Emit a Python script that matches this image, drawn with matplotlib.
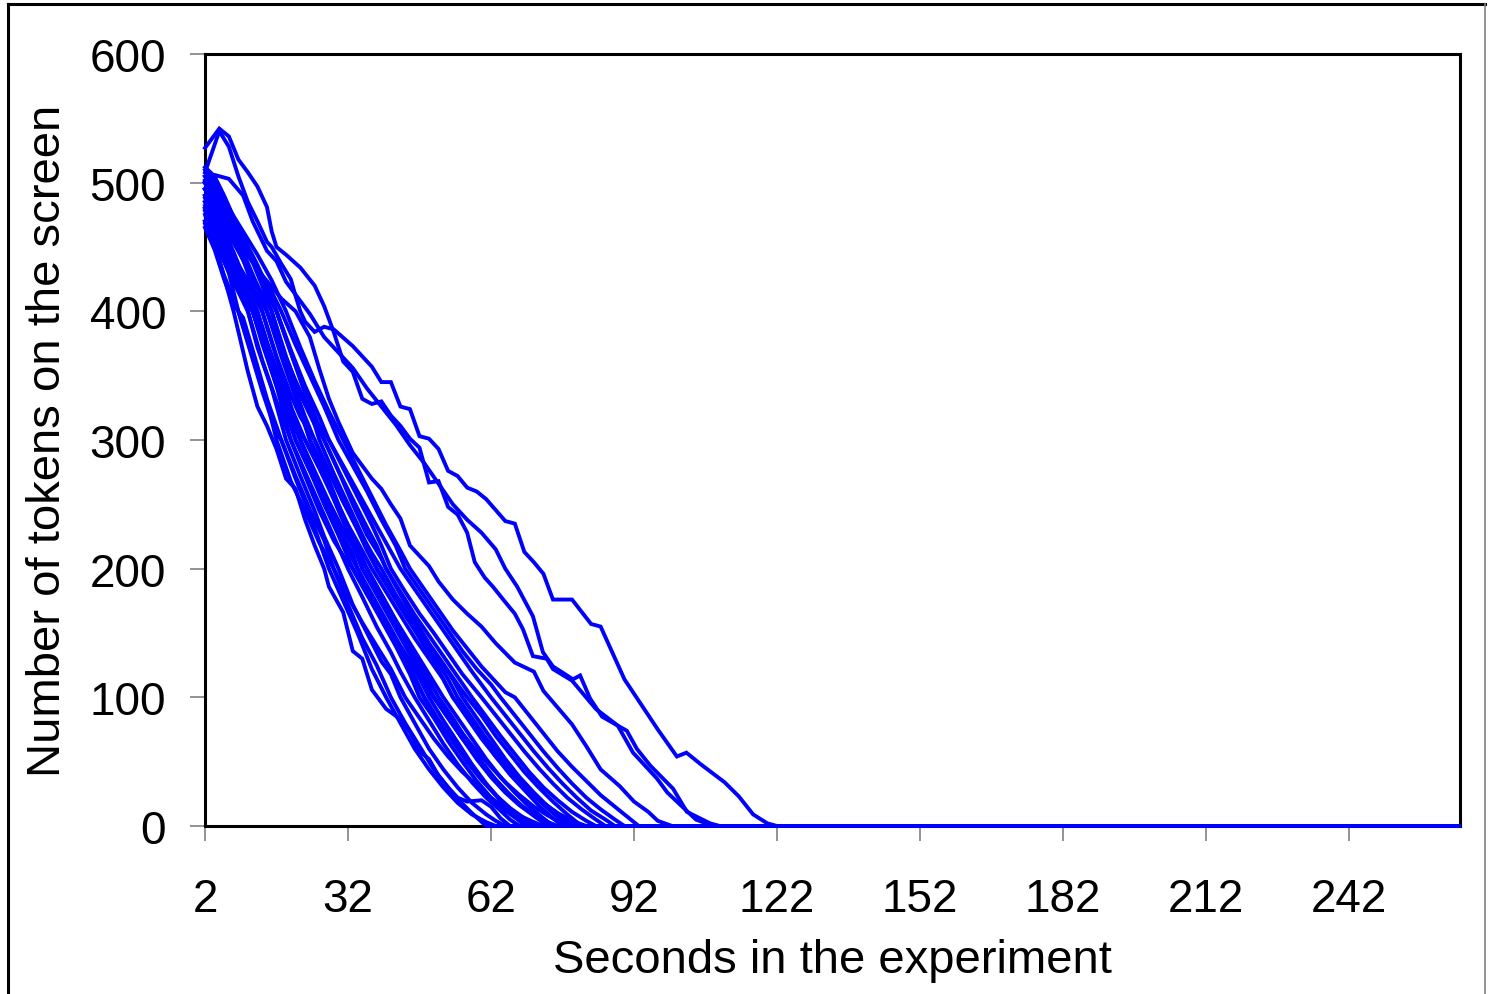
import matplotlib
matplotlib.use("Agg")
import matplotlib.pyplot as plt
from matplotlib.lines import Line2D

plt.rcParams['font.family'] = ['Liberation Sans', 'DejaVu Sans']

# last second of the experiment (all runs sit at 0 until then)
last_second = 265

# each run: (second, tokens on screen)
run01 = [(2,470),(5,440),(8,400),(11,353),(13,326),(15,311),(17,293),(19,270),(21,262),(23,238),(25,218),(27,200),(28,186),(31,166),(33,136),(35,130),(37,106),(40,91),(43,83),(45,73),(47,58),(49,52),(51,39),(55,21),(58,10),(61,0)]
run02 = [(2,482),(4,462),(7,430),(9,400),(12,365),(15,330),(17,300),(20,268),(23,245),(26,220),(29,200),(32,172),(35,146),(38,125),(41,100),(44,80),(47,62),(50,44),(53,30),(55,22),(57,19),(60,20),(62,15),(64,6),(66,0)]
run03 = [(2,468),(4,450),(6,428),(9,400),(11,375),(14,338),(17,305),(18,300),(21,270),(24,242),(28,200),(31,175),(34,150),(37,122),(40,100),(43,80),(46,60),(49,44),(52,30),(55,18),(58,9),(61,3),(63,0)]
run04 = [(2,500),(4,478),(7,440),(9,418),(11,400),(13,372),(16,340),(19,300),(22,272),(25,245),(27,225),(30,200),(33,172),(36,150),(39,128),(41,118),(43,100),(46,80),(49,60),(52,44),(55,30),(58,18),(61,9),(63,4),(65,0)]
run05 = [(2,485),(4,470),(7,442),(10,415),(12,400),(14,375),(17,342),(20,300),(23,275),(26,250),(29,225),(32,200),(35,178),(38,155),(41,135),(43,120),(46,100),(49,82),(52,64),(55,48),(58,34),(61,22),(64,12),(66,5),(68,0)]
run06 = [(2,495),(4,482),(7,455),(10,428),(13,400),(15,372),(18,335),(21,300),(24,276),(27,250),(30,226),(33,200),(36,180),(39,160),(42,140),(45,118),(47,100),(50,84),(53,66),(56,50),(59,35),(62,22),(65,12),(68,4),(70,0)]
run07 = [(2,475),(4,455),(7,430),(9,415),(11,400),(14,362),(17,330),(20,300),(23,272),(26,245),(29,222),(31,210),(33,200),(36,180),(39,162),(42,145),(45,128),(47,115),(49,100),(52,82),(55,65),(58,48),(61,33),(64,20),(67,10),(69,4),(71,0)]
run08 = [(2,505),(4,492),(7,465),(10,440),(12,420),(14,400),(16,376),(19,340),(22,300),(25,275),(28,250),(31,224),(34,200),(37,178),(40,158),(43,138),(46,116),(48,100),(51,82),(54,66),(57,50),(60,36),(63,24),(66,14),(69,6),(72,0)]
run09 = [(2,490),(4,476),(7,450),(10,425),(13,400),(15,376),(18,345),(20,326),(23,300),(26,278),(29,254),(32,228),(35,200),(38,182),(41,164),(44,145),(47,124),(50,100),(53,84),(56,68),(59,52),(62,38),(65,26),(68,16),(71,8),(74,0)]
run10 = [(2,480),(4,462),(6,440),(9,418),(12,400),(14,378),(17,342),(20,318),(22,300),(25,276),(28,252),(31,230),(34,212),(36,200),(39,180),(42,160),(45,142),(48,124),(50,112),(52,100),(55,84),(58,68),(61,52),(64,38),(67,26),(70,15),(73,6),(75,0)]
run11 = [(2,500),(4,490),(7,468),(10,446),(13,420),(15,400),(18,365),(21,333),(24,300),(27,278),(30,250),(33,225),(36,200),(39,180),(42,160),(45,140),(48,120),(51,100),(54,84),(57,66),(60,50),(63,36),(66,24),(69,14),(72,7),(74,3),(76,0)]
run12 = [(2,470),(4,455),(7,435),(9,420),(12,400),(15,368),(18,336),(20,318),(23,300),(26,278),(29,256),(32,234),(35,214),(37,200),(40,182),(43,164),(46,146),(49,130),(52,114),(54,100),(57,86),(60,70),(63,54),(66,40),(69,28),(72,16),(75,6),(77,0)]
run13 = [(2,495),(4,484),(7,462),(10,440),(13,418),(15,400),(18,370),(21,338),(23,318),(25,300),(28,276),(31,252),(34,230),(36,214),(38,200),(41,182),(44,164),(47,146),(50,128),(52,114),(54,100),(57,84),(60,68),(63,54),(66,42),(69,30),(72,20),(75,10),(77,4),(79,0)]
run14 = [(2,485),(4,470),(7,450),(10,428),(12,414),(14,400),(17,365),(20,335),(22,318),(25,300),(28,275),(31,252),(34,232),(37,212),(39,200),(42,180),(45,162),(48,146),(51,130),(54,114),(56,100),(59,84),(62,68),(65,52),(68,38),(71,26),(74,15),(77,7),(80,0)]
run15 = [(2,510),(4,500),(7,480),(10,458),(13,436),(15,420),(17,400),(20,368),(23,336),(26,300),(29,274),(32,250),(35,226),(38,200),(41,182),(44,164),(47,148),(50,132),(53,114),(55,100),(58,84),(61,68),(64,54),(67,40),(70,28),(73,18),(76,10),(79,4),(82,0)]
run16 = [(2,490),(4,478),(7,460),(10,440),(13,420),(16,400),(19,365),(22,335),(25,312),(27,300),(30,276),(33,254),(36,232),(38,218),(40,200),(43,182),(46,164),(49,148),(52,132),(55,116),(58,100),(61,85),(64,70),(67,56),(70,42),(73,30),(76,20),(79,11),(82,4),(84,0)]
run17 = [(2,500),(4,490),(7,472),(10,452),(13,432),(15,418),(17,400),(20,370),(23,342),(26,318),(28,300),(31,278),(34,256),(37,234),(39,218),(41,200),(44,182),(47,165),(50,150),(53,134),(56,118),(60,100),(63,86),(66,72),(69,58),(72,45),(75,33),(78,22),(81,13),(84,5),(86,0)]
run18 = [(2,480),(4,466),(7,448),(10,430),(13,412),(15,400),(18,372),(21,346),(24,322),(28,300),(31,280),(34,260),(37,240),(40,220),(43,200),(46,184),(49,168),(52,152),(55,136),(58,120),(62,100),(65,86),(68,72),(71,58),(74,45),(77,33),(80,22),(83,12),(86,5),(88,0)]
run19 = [(2,495),(4,486),(7,470),(10,452),(13,434),(16,415),(18,400),(21,374),(24,350),(27,326),(30,300),(33,280),(36,260),(39,238),(42,218),(44,200),(47,184),(50,168),(53,152),(56,136),(59,122),(62,110),(64,100),(67,86),(70,72),(73,58),(76,45),(79,33),(82,22),(85,13),(88,5),(90,0)]
run20 = [(2,505),(4,496),(7,480),(10,462),(13,444),(16,424),(19,400),(22,372),(25,346),(28,322),(31,300),(34,278),(37,256),(40,234),(43,214),(45,200),(48,184),(51,168),(54,152),(57,138),(60,124),(63,112),(65,104),(67,100),(70,86),(73,72),(76,58),(79,46),(82,35),(85,24),(88,15),(91,6),(93,0)]
run21 = [(2,465),(4,448),(6,425),(8,405),(10,395),(12,370),(15,332),(18,300),(21,272),(24,246),(27,222),(29,200),(32,178),(35,158),(38,140),(41,122),(44,100),(47,84),(50,68),(53,54),(56,42),(59,32),(62,22),(65,14),(68,8),(71,3),(73,0)]
run22 = [(2,512),(4,505),(6,490),(9,465),(12,438),(14,420),(16,400),(19,360),(22,325),(24,300),(27,272),(30,246),(33,222),(35,200),(38,180),(41,160),(44,140),(47,120),(50,100),(53,86),(56,72),(59,58),(62,46),(65,34),(68,24),(71,15),(74,8),(76,4),(78,0)]
run23 = [(2,495),(6,470),(10,448),(14,428),(18,410),(21,400),(24,380),(26,355),(28,332),(30,314),(33,290),(37,270),(39,262),(41,250),(43,239),(45,218),(47,210),(49,202),(51,190),(54,176),(57,165),(60,155),(63,142),(67,127),(71,120),(73,105),(76,92),(79,79),(82,62),(85,44),(89,31),(92,19),(95,11),(97,4),(100,0)]
run24 = [(2,488),(4,472),(7,446),(10,420),(12,404),(14,388),(17,352),(20,318),(22,300),(25,272),(28,246),(31,222),(34,200),(37,176),(40,154),(43,134),(46,114),(48,100),(51,82),(54,66),(57,50),(60,36),(63,24),(66,12),(69,0)]
run25 = [(2,478),(4,462),(7,440),(10,418),(12,400),(15,366),(18,332),(21,300),(24,276),(27,254),(30,232),(33,212),(34,200),(37,180),(40,160),(43,140),(46,122),(49,104),(50,100),(53,84),(56,68),(59,54),(62,40),(65,28),(68,17),(71,8),(74,0)]
run26 = [(2,502),(4,494),(7,476),(10,455),(13,432),(15,414),(17,400),(20,368),(23,338),(26,310),(27,300),(30,276),(33,250),(36,226),(39,208),(40,200),(43,180),(46,160),(49,142),(52,126),(55,110),(57,100),(60,86),(63,70),(66,56),(69,42),(72,30),(75,19),(78,9),(81,0)]
run27 = [(2,527),(5,542),(7,536),(9,518),(11,508),(13,497),(15,481),(16,462),(17,450),(19,444),(22,434),(25,420),(27,404),(29,384),(31,361),(33,353),(35,332),(37,328),(39,330),(41,319),(43,311),(45,301),(47,294),(49,267),(51,268),(53,248),(55,242),(57,228),(58.6,205),(60.7,193),(62.4,186),(65,174),(67,165),(68.7,153),(70.8,132),(73.7,130),(75,122),(79,113),(84,91),(88.6,78),(91.8,57),(96.8,37),(99,26),(101,19),(105,5),(108.6,0)]
run28 = [(2,500),(4,506),(7,503),(10,490),(12,470),(15,447),(17,439),(19,423),(21,413),(24,398),(27,380),(30,368),(33,356),(36,340),(39,326),(42,312),(45,296),(48,282),(51,266),(54,250),(57,238),(60,228),(63,215),(65,200),(67.5,186),(70.8,163),(72.9,135),(75,124),(79.2,114),(80.7,117),(82.8,99),(85.3,85),(90.5,74),(92.6,60),(95.4,47),(100.2,29),(103.1,11),(108,2),(110,0)]
run29 = [(2,508),(5,540),(7,528),(9,505),(11,485),(13,470),(15,454),(16,450),(18,437),(20,425),(21,412),(22,400),(23,392),(25,384),(27,388),(29,386),(33,373),(37,357),(39,345),(41,345),(43,326),(45,324),(47,303),(49,301),(51,293),(53,276),(55,272),(57,263),(59,260),(61,254),(65,237),(67,235),(69,213),(71,205),(73,196),(75,176),(79,176),(83,157),(85,155),(90,114),(97,75),(101,54),(103,57),(106,48),(111,34),(114,23),(117,9),(120,2),(122,0)]

runs = [run01, run02, run03, run04, run05, run06, run07, run08, run09, run10,
        run11, run12, run13, run14, run15, run16, run17, run18, run19, run20,
        run21, run22, run23, run24, run25, run26, run27, run28, run29]

xticks = [2, 32, 62, 92, 122, 152, 182, 212, 242]
yticks = [0, 100, 200, 300, 400, 500, 600]

fig = plt.figure(figsize=(14.88, 9.95), dpi=100)
ax = fig.add_axes([205/1488, 1-827/995, (1460-205)/1488, (827-55)/995])

for run in runs:
    xs = [p[0] for p in run] + [last_second]
    ys = [p[1] for p in run] + [0]
    ax.plot(xs, ys, color="#0000FF", lw=2.8, solid_joinstyle="miter", zorder=3, clip_on=False)

ax.set_xlim(2, 265.3)
ax.set_ylim(0, 600)
ax.set_xticks(xticks)
ax.set_yticks(yticks)
ax.tick_params(axis="both", direction="out", length=11, width=1.2, color="#808080",
               labelsize=33)
ax.tick_params(axis="x", pad=26)
ax.tick_params(axis="y", pad=17)
for sp in ax.spines.values():
    sp.set_linewidth(2.2)
    sp.set_color("black")

ax.set_xlabel("Seconds in the experiment", fontsize=34, labelpad=12)
ax.set_ylabel("Number of tokens on the screen", fontsize=34, labelpad=14)

# outer chart-area border
fig.add_artist(Line2D([8/1488, 8/1488], [0, 1-5/995], color="black", lw=2.2))
fig.add_artist(Line2D([8/1488, 1485/1488], [1-5/995, 1-5/995], color="black", lw=2.2))
fig.add_artist(Line2D([1485/1488, 1485/1488], [0, 1-5/995], color="#808080", lw=1.2))

fig.savefig("out.png", dpi=100)
